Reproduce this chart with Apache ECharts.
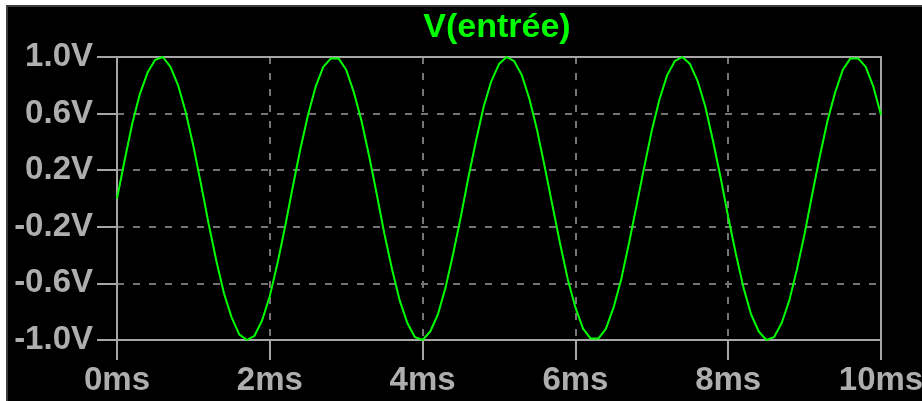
<!DOCTYPE html>
<html>
<head>
<meta charset="utf-8">
<script src="https://cdn.jsdelivr.net/npm/echarts@6/dist/echarts.min.js"></script>
<style>
  html, body { margin: 0; padding: 0; background: #ffffff; }
  #frame { position: absolute; left: 6px; top: 5px; width: 914px; height: 394px; background: #000; border-top: 2px solid #3c3c3c; border-left: 2px solid #3c3c3c; }
  #chart { position: absolute; left: 0; top: 0; width: 922px; height: 401px; }
</style>
</head>
<body>
<div id="frame"></div>
<div id="chart"></div>
<script>
// ---- data ----
const titleText = 'V(entrée)';
// time in ms (sampled every 0.1 ms)
const timeMs = [
  0.0,0.1,0.2,0.3,0.4,0.5,0.6,0.7,0.8,0.9,
  1.0,1.1,1.2,1.3,1.4,1.5,1.6,1.7,1.8,1.9,
  2.0,2.1,2.2,2.3,2.4,2.5,2.6,2.7,2.8,2.9,
  3.0,3.1,3.2,3.3,3.4,3.5,3.6,3.7,3.8,3.9,
  4.0,4.1,4.2,4.3,4.4,4.5,4.6,4.7,4.8,4.9,
  5.0,5.1,5.2,5.3,5.4,5.5,5.6,5.7,5.8,5.9,
  6.0,6.1,6.2,6.3,6.4,6.5,6.6,6.7,6.8,6.9,
  7.0,7.1,7.2,7.3,7.4,7.5,7.6,7.7,7.8,7.9,
  8.0,8.1,8.2,8.3,8.4,8.5,8.6,8.7,8.8,8.9,
  9.0,9.1,9.2,9.3,9.4,9.5,9.6,9.7,9.8,9.9,
  10.0
];
// V(entrée) in volts
const vIn = [
  0.00,0.27,0.53,0.74,0.89,0.98,1.00,0.93,0.80,0.61,
  0.37,0.10,-0.18,-0.44,-0.67,-0.84,-0.96,-1.00,-0.97,-0.86,
  -0.69,-0.46,-0.20,0.08,0.35,0.59,0.79,0.93,0.99,0.99,
  0.91,0.75,0.55,0.30,0.03,-0.25,-0.50,-0.72,-0.88,-0.98,
  -1.00,-0.94,-0.82,-0.63,-0.39,-0.13,0.15,0.41,0.65,0.83,
  0.95,1.00,0.97,0.87,0.70,0.48,0.22,-0.05,-0.32,-0.57,
  -0.77,-0.92,-0.99,-0.99,-0.92,-0.77,-0.57,-0.32,-0.05,0.22,
  0.48,0.70,0.87,0.97,1.00,0.95,0.83,0.65,0.41,0.15,
  -0.13,-0.39,-0.63,-0.82,-0.94,-1.00,-0.98,-0.88,-0.72,-0.50,
  -0.25,0.03,0.30,0.55,0.75,0.91,0.99,0.99,0.93,0.79,
  0.59
];
const xTickValues = [0, 2, 4, 6, 8, 10];
const xTickLabels = ['0ms', '2ms', '4ms', '6ms', '8ms', '10ms'];
const yTickValues = [-1.0, -0.6, -0.2, 0.2, 0.6, 1.0];
const yTickLabels = ['-1.0V', '-0.6V', '-0.2V', '0.2V', '0.6V', '1.0V'];

// ---- chart ----
const axisGrey = '#a6a6a6';
const labelGrey = '#aeaeae';
const gridGrey = '#747474';
const green = '#00ff00';
const labelFont = { fontFamily: 'Liberation Sans', fontSize: 33, fontWeight: 'bold', color: labelGrey };

const chart = echarts.init(document.getElementById('chart'), null, { renderer: 'canvas' });
chart.setOption({
  backgroundColor: 'transparent',
  animation: false,
  title: {
    text: titleText,
    left: 497,
    top: 11,
    textAlign: 'center',
    padding: 0,
    textStyle: { fontFamily: 'Liberation Sans', fontSize: 34, fontWeight: 'bold', color: green }
  },
  grid: { left: 117, right: 41, top: 57, bottom: 61, containLabel: false, outerBoundsMode: 'none', show: false },
  xAxis: [
    {
      type: 'value', min: 0, max: 10, interval: 2, position: 'bottom', z: 2,
      axisLine: { show: true, onZero: false, lineStyle: { color: axisGrey, width: 2 } },
      axisTick: { show: true, length: 20, inside: false, lineStyle: { color: axisGrey, width: 2 } },
      axisLabel: Object.assign({ margin: 24, formatter: v => xTickLabels[xTickValues.indexOf(v)] || '' }, labelFont),
      splitLine: { show: true, showMinLine: false, showMaxLine: false, lineStyle: { color: gridGrey, width: 2, type: [7, 9] } }
    },
    {
      type: 'value', min: 0, max: 10, position: 'top', z: 3,
      axisLine: { show: true, onZero: false, lineStyle: { color: axisGrey, width: 2 } },
      axisTick: { show: false }, axisLabel: { show: false }, splitLine: { show: false }
    }
  ],
  yAxis: [
    {
      type: 'value', min: -1, max: 1, position: 'left', z: 2,
      axisLine: { show: true, onZero: false, lineStyle: { color: axisGrey, width: 2 } },
      axisTick: { show: true, length: 20, inside: false, customValues: yTickValues, lineStyle: { color: axisGrey, width: 2 } },
      axisLabel: Object.assign({ margin: 24, customValues: yTickValues, formatter: v => {
        const i = yTickValues.findIndex(t => Math.abs(t - v) < 1e-9);
        return i >= 0 ? yTickLabels[i] : '';
      } }, labelFont),
      splitLine: { show: true, showMinLine: false, showMaxLine: false, lineStyle: { color: gridGrey, width: 2, type: [7, 9] } }
    },
    {
      type: 'value', min: -1, max: 1, position: 'right', z: 3,
      axisLine: { show: true, onZero: false, lineStyle: { color: axisGrey, width: 2 } },
      axisTick: { show: false }, axisLabel: { show: false }, splitLine: { show: false }
    }
  ],
  series: [
    {
      type: 'line', name: titleText, xAxisIndex: 0, yAxisIndex: 0, z: 4,
      data: timeMs.map((t, i) => [t, vIn[i]]),
      symbol: 'none', smooth: false,
      lineStyle: { color: green, width: 2 }
    }
  ]
});
</script>
</body>
</html>
